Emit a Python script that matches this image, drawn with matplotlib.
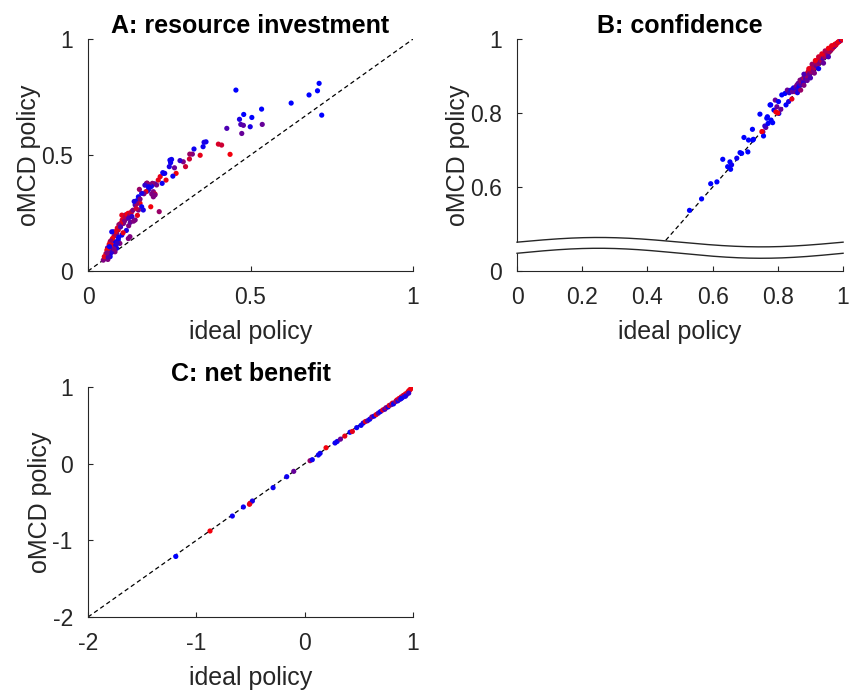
import numpy as np
import matplotlib
matplotlib.use("Agg")
import matplotlib.pyplot as plt

plt.rcParams['font.family'] = ['Liberation Sans', 'DejaVu Sans']

# ---------------- data ----------------
# A: resource investment  (ideal, oMCD, colour mix 0=blue .. 1=red)
a_ideal = [0.455, 0.711, 0.706, 0.680, 0.625, 0.719, 0.534, 0.536, 0.479, 0.466, 0.504, 0.470, 0.478, 0.499,
           0.473, 0.427, 0.401, 0.411, 0.437, 0.363, 0.357, 0.354, 0.326, 0.345, 0.321, 0.313, 0.312, 0.300,
           0.293, 0.283, 0.257, 0.254, 0.266, 0.250, 0.271, 0.261, 0.240, 0.230, 0.236, 0.228, 0.216, 0.219,
           0.193, 0.201, 0.211, 0.205, 0.198, 0.195, 0.188, 0.182, 0.190, 0.186, 0.180, 0.175, 0.183, 0.178,
           0.201, 0.206, 0.196, 0.172, 0.165, 0.158, 0.206, 0.155, 0.150, 0.160, 0.165, 0.170, 0.155, 0.134,
           0.124, 0.114, 0.104, 0.119, 0.145, 0.109, 0.098, 0.093, 0.078, 0.088, 0.104, 0.093, 0.083, 0.098,
           0.068, 0.073, 0.068, 0.062, 0.078, 0.088, 0.083, 0.057, 0.052, 0.068, 0.061, 0.047, 0.110, 0.115,
           0.120, 0.128, 0.105, 0.112, 0.125, 0.132, 0.138, 0.100, 0.095, 0.090, 0.100, 0.085, 0.080, 0.075,
           0.070, 0.065, 0.060, 0.058, 0.055, 0.050, 0.072, 0.067, 0.085, 0.090, 0.080, 0.062, 0.145, 0.150,
           0.142, 0.160, 0.148, 0.135, 0.118, 0.125, 0.130, 0.073, 0.129, 0.124, 0.222, 0.186, 0.232, 0.252,
           0.094, 0.108, 0.140, 0.152, 0.066, 0.059]
a_omcd = [0.780, 0.809, 0.777, 0.759, 0.724, 0.672, 0.698, 0.632, 0.675, 0.654, 0.662, 0.632, 0.628, 0.622,
          0.593, 0.615, 0.547, 0.543, 0.503, 0.557, 0.555, 0.536, 0.526, 0.499, 0.504, 0.504, 0.483, 0.450,
          0.471, 0.476, 0.481, 0.467, 0.445, 0.450, 0.421, 0.409, 0.392, 0.424, 0.421, 0.378, 0.392, 0.256,
          0.277, 0.320, 0.371, 0.376, 0.378, 0.365, 0.372, 0.379, 0.360, 0.350, 0.378, 0.370, 0.345, 0.342,
          0.342, 0.332, 0.332, 0.333, 0.335, 0.352, 0.328, 0.320, 0.303, 0.292, 0.277, 0.263, 0.263, 0.256,
          0.249, 0.241, 0.241, 0.227, 0.220, 0.205, 0.191, 0.177, 0.169, 0.162, 0.155, 0.134, 0.126, 0.119,
          0.126, 0.112, 0.098, 0.083, 0.091, 0.098, 0.083, 0.069, 0.055, 0.062, 0.050, 0.047, 0.230, 0.235,
          0.245, 0.240, 0.220, 0.215, 0.228, 0.250, 0.262, 0.205, 0.200, 0.185, 0.190, 0.170, 0.150, 0.140,
          0.130, 0.115, 0.100, 0.090, 0.075, 0.062, 0.080, 0.070, 0.110, 0.120, 0.095, 0.060, 0.285, 0.290,
          0.300, 0.310, 0.270, 0.235, 0.175, 0.195, 0.210, 0.169, 0.148, 0.140, 0.407, 0.363, 0.421, 0.478,
          0.145, 0.165, 0.215, 0.240, 0.105, 0.078]
a_mix = [0.0, 0.0, 0.0, 0.0, 0.0, 0.0, 0.0, 0.4, 0.0, 0.1, 0.0, 0.3, 0.35, 0.1,
         0.4, 0.3, 0.85, 0.8, 0.95, 0.05, 0.1, 0.05, 0.05, 0.9, 0.5, 0.6, 0.8, 0.8,
         0.5, 0.2, 0.05, 0.05, 0.4, 0.1, 0.95, 0.05, 0.9, 0.05, 0.1, 0.05, 0.9, 0.6,
         0.95, 0.5, 0.5, 0.4, 0.55, 0.1, 0.45, 0.6, 0.05, 0.3, 0.55, 0.2, 0.1, 0.9,
         0.5, 0.85, 0.5, 0.45, 0.1, 0.6, 0.5, 0.05, 0.05, 0.95, 0.05, 0.1, 0.5, 0.95,
         0.9, 0.5, 0.9, 0.5, 0.5, 0.5, 0.9, 0.9, 0.05, 0.5, 0.05, 0.05, 0.05, 0.5,
         0.9, 0.9, 0.9, 0.9, 0.05, 0.05, 0.5, 0.9, 0.05, 0.05, 0.5, 0.5, 0.9, 0.7,
         0.95, 0.6, 0.85, 0.5, 0.3, 0.8, 0.5, 0.9, 0.6, 0.85, 0.3, 0.9, 0.7, 0.95,
         0.6, 0.9, 0.4, 0.95, 0.7, 0.9, 0.2, 0.1, 0.1, 0.2, 0.5, 0.3, 0.3, 0.6,
         0.1, 0.5, 0.8, 0.2, 0.1, 0.5, 0.4, 0.05, 0.5, 0.5, 0.9, 0.05, 0.05, 0.05,
         0.05, 0.9, 0.5, 0.9, 0.05, 0.5]

# B: confidence
b_ideal = [0.529, 0.566, 0.594, 0.613, 0.631, 0.653, 0.646, 0.655, 0.658, 0.674, 0.684, 0.696, 0.710, 0.723,
           0.722, 0.708, 0.745, 0.754, 0.756, 0.766, 0.763, 0.779, 0.784, 0.788, 0.778, 0.792, 0.802, 0.797,
           0.794, 0.803, 0.809, 0.812, 0.822, 0.825, 0.833, 0.829, 0.852, 0.760, 0.770, 0.689, 0.725, 0.751,
           0.768, 0.776,
           0.835, 0.840, 0.845, 0.848, 0.855, 0.858, 0.860, 0.862, 0.865, 0.868, 0.870, 0.872, 0.875, 0.878,
           0.880, 0.882, 0.885, 0.887, 0.890, 0.892, 0.895, 0.897, 0.900, 0.902, 0.905, 0.908, 0.910, 0.912,
           0.915, 0.918, 0.920, 0.922, 0.925, 0.928, 0.930, 0.933, 0.935, 0.938, 0.940, 0.943, 0.945, 0.948,
           0.950, 0.953, 0.955, 0.958, 0.960, 0.963, 0.965, 0.968, 0.970, 0.973, 0.975, 0.978, 0.980, 0.983,
           0.985, 0.988, 0.990, 0.993, 0.995, 0.997, 0.999, 0.860, 0.870, 0.880, 0.890, 0.900, 0.912, 0.925,
           0.940, 0.955, 0.843, 0.800,
           0.880, 0.895, 0.905, 0.915, 0.925, 0.935, 0.945, 0.955, 0.965]
b_omcd = [0.537, 0.568, 0.609, 0.614, 0.675, 0.668, 0.655, 0.648, 0.660, 0.678, 0.693, 0.734, 0.727, 0.727,
          0.756, 0.695, 0.797, 0.749, 0.738, 0.786, 0.761, 0.781, 0.774, 0.808, 0.822, 0.835, 0.831, 0.817,
          0.803, 0.799, 0.810, 0.849, 0.853, 0.822, 0.831, 0.862, 0.858, 0.765, 0.772, 0.691, 0.729, 0.750,
          0.790, 0.822,
          0.855, 0.862, 0.858, 0.868, 0.870, 0.875, 0.865, 0.880, 0.872, 0.889, 0.878, 0.885, 0.892, 0.882,
          0.895, 0.900, 0.892, 0.905, 0.898, 0.910, 0.915, 0.905, 0.920, 0.912, 0.925, 0.918, 0.930, 0.922,
          0.935, 0.928, 0.940, 0.932, 0.945, 0.937, 0.950, 0.942, 0.955, 0.948, 0.958, 0.952, 0.962, 0.957,
          0.965, 0.960, 0.970, 0.966, 0.975, 0.970, 0.978, 0.975, 0.982, 0.980, 0.986, 0.984, 0.988, 0.990,
          0.992, 0.993, 0.995, 0.996, 0.998, 0.999, 1.000, 0.855, 0.862, 0.875, 0.888, 0.895, 0.908, 0.920,
          0.935, 0.952, 0.838, 0.800,
          0.905, 0.920, 0.932, 0.942, 0.952, 0.960, 0.968, 0.975, 0.982]
b_mix = [0.0, 0.0, 0.0, 0.0, 0.0, 0.0, 0.0, 0.0, 0.05, 0.05, 0.0, 0.0, 0.0, 0.0,
         0.0, 0.0, 0.0, 0.5, 0.0, 0.0, 0.4, 0.0, 0.0, 0.0, 0.0, 0.4, 0.0, 0.4,
         0.95, 0.0, 0.4, 0.0, 0.0, 0.0, 0.1, 0.4, 0.95, 0.2, 0.0, 0.0, 0.0, 0.95,
         0.0, 0.0,
         0.2, 0.1, 0.4, 0.1, 0.3, 0.5, 0.2, 0.4, 0.05, 0.5, 0.3, 0.6, 0.4, 0.2,
         0.7, 0.5, 0.3, 0.8, 0.6, 0.9, 0.7, 0.4, 0.9, 0.6, 0.95, 0.5, 0.85, 0.7,
         0.9, 0.4, 0.95, 0.6, 0.9, 0.5, 0.95, 0.7, 0.9, 0.3, 0.85, 0.6, 0.95, 0.8,
         0.9, 0.5, 0.95, 0.7, 0.9, 0.6, 0.95, 0.8, 0.9, 0.5, 0.95, 0.85, 0.9, 0.7,
         0.95, 0.9, 0.95, 0.9, 0.05, 0.95, 0.9, 0.1, 0.6, 0.5, 0.4, 0.3, 0.5, 0.05,
         0.4, 0.3, 0.9, 0.95,
         0.3, 0.9, 0.6, 0.95, 0.8, 0.9, 0.7, 0.95, 0.9]

# C: net benefit
c_ideal = [-1.190, -0.874, -0.668, -0.566, -0.505, -0.483, -0.510, -0.292, -0.166, -0.101, 0.049, 0.070,
           0.126, 0.142, 0.197, 0.280, 0.300, 0.330, 0.370, 0.418, 0.440, 0.480, 0.520, 0.540, 0.560, 0.580,
           0.600, 0.620, 0.640, 0.660, 0.680, 0.700, 0.720, 0.740, 0.750, 0.770, 0.780, 0.800, 0.810, 0.820,
           0.840, 0.850, 0.860, 0.870, 0.880, 0.890, 0.900, 0.910, 0.920, 0.930, 0.940, 0.950, 0.960, 0.970,
           0.980, 0.990, 0.995, 0.890, 0.930, 0.960]
c_omcd = [-1.210, -0.878, -0.683, -0.565, -0.517, -0.487, -0.530, -0.313, -0.170, -0.100, 0.039, 0.052,
          0.113, 0.135, 0.208, 0.270, 0.290, 0.320, 0.360, 0.410, 0.420, 0.470, 0.500, 0.530, 0.550, 0.560,
          0.580, 0.610, 0.620, 0.640, 0.660, 0.680, 0.700, 0.710, 0.730, 0.740, 0.760, 0.770, 0.790, 0.780,
          0.810, 0.830, 0.820, 0.850, 0.840, 0.870, 0.860, 0.890, 0.880, 0.910, 0.900, 0.930, 0.950, 0.960,
          0.980, 0.990, 0.995, 0.850, 0.880, 0.920]
c_mix = [0.0, 0.95, 0.05, 0.05, 0.95, 0.1, 0.9, 0.05, 0.05, 0.4, 0.6, 0.05,
         0.05, 0.05, 0.95, 0.05, 0.05, 0.4, 0.9, 0.05, 0.9, 0.05, 0.05, 0.1, 0.9, 0.3,
         0.05, 0.5, 0.05, 0.9, 0.3, 0.05, 0.9, 0.2, 0.6, 0.05, 0.9, 0.4, 0.9, 0.05,
         0.5, 0.9, 0.1, 0.95, 0.3, 0.9, 0.05, 0.8, 0.3, 0.95, 0.5, 0.9, 0.95, 0.9,
         0.95, 0.9, 0.95, 0.05, 0.1, 0.2]

# the confidence axis is broken: its bottom edge carries the "0" tick
B_YBOTTOM = 0.373

GREY = (0.15, 0.15, 0.15)


def mix_colors(mix):
    m = np.asarray(mix)
    return np.column_stack([m, np.zeros_like(m), 1 - m])


def style_axes(ax):
    for side in ('top', 'right'):
        ax.spines[side].set_visible(False)
    for side in ('left', 'bottom'):
        ax.spines[side].set_color(GREY)
        ax.spines[side].set_linewidth(0.8)
    ax.tick_params(direction='in', length=3.5, width=0.8, colors=GREY,
                   labelsize=16.5, pad=11)
    ax.set_xlabel('ideal policy', fontsize=18, color=GREY, labelpad=8)
    ax.set_ylabel('oMCD policy', fontsize=18, color=GREY, labelpad=0)


def identity(ax, lo, hi, z=1):
    ax.plot([lo, hi], [lo, hi], ls=(0, (3.5, 2.5)), color='black', lw=0.9, zorder=z)


fig = plt.figure(figsize=(8.58, 6.90), dpi=100)

# ---- A ----
axA = fig.add_axes([0.1026, 0.6072, 0.3788, 0.3362])
identity(axA, 0, 1)
axA.scatter(a_ideal, a_omcd, s=14, c=mix_colors(a_mix), linewidths=0, zorder=2)
axA.set_xlim(0, 1)
axA.set_ylim(0, 1)
axA.set_xticks([0, 0.5, 1])
axA.set_xticklabels(['0', '0.5', '1'])
axA.set_yticks([0, 0.5, 1])
axA.set_yticklabels(['0', '0.5', '1'])
style_axes(axA)
axA.set_title('A: resource investment', fontsize=18, fontweight='bold', pad=4)

# ---- B ----
axB = fig.add_axes([0.6026, 0.6072, 0.3800, 0.3362])
identity(axB, 0, 1)
axB.scatter(b_ideal, b_omcd, s=14, c=mix_colors(b_mix), linewidths=0, zorder=2)
axB.set_xlim(0, 1)
axB.set_ylim(B_YBOTTOM, 1)
axB.set_xticks([0, 0.2, 0.4, 0.6, 0.8, 1])
axB.set_xticklabels(['0', '0.2', '0.4', '0.6', '0.8', '1'])
axB.set_yticks([B_YBOTTOM, 0.6, 0.8, 1])
axB.set_yticklabels(['0', '0.6', '0.8', '1'])
style_axes(axB)
axB.set_title('B: confidence', fontsize=18, fontweight='bold', pad=4)

# axis-break waves
wx = np.linspace(0, 1, 300)
upper = 0.451 + 0.0127 * np.sin(2 * np.pi * wx)
lower = 0.421 + 0.0135 * np.sin(2 * np.pi * wx)
axB.fill_between(wx, B_YBOTTOM, upper, color='white', lw=0, zorder=1.5)
gx = np.linspace(-0.01, 1, 300)
axB.fill_between(gx, 0.421 + 0.0135 * np.sin(2 * np.pi * gx),
                 0.451 + 0.0127 * np.sin(2 * np.pi * gx),
                 color='white', lw=0, zorder=3, clip_on=False)
axB.plot(wx, upper, color=GREY, lw=1.0, zorder=4, clip_on=False)
axB.plot(wx, lower, color=GREY, lw=1.0, zorder=4, clip_on=False)

# ---- C ----
axC = fig.add_axes([0.1026, 0.1058, 0.3788, 0.3333])
identity(axC, -2, 1)
axC.scatter(c_ideal, c_omcd, s=14, c=mix_colors(c_mix), linewidths=0, zorder=2)
axC.set_xlim(-2, 1)
axC.set_ylim(-2, 1)
axC.set_xticks([-2, -1, 0, 1])
axC.set_xticklabels(['-2', '-1', '0', '1'])
axC.set_yticks([-2, -1, 0, 1])
axC.set_yticklabels(['-2', '-1', '0', '1'])
style_axes(axC)
axC.set_title('C: net benefit', fontsize=18, fontweight='bold', pad=4)

fig.savefig('out.png', dpi=100, facecolor='white')
